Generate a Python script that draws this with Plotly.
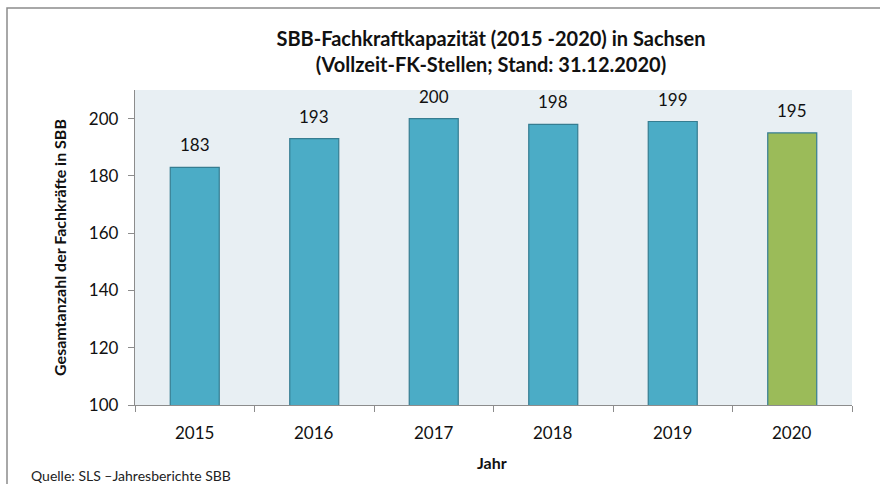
import plotly.graph_objects as go

years = ["2015", "2016", "2017", "2018", "2019", "2020"]
values = [183, 193, 200, 198, 199, 195]
colors = ["#4bacc6", "#4bacc6", "#4bacc6", "#4bacc6", "#4bacc6", "#9bbb59"]

FONT = "Lato, Open Sans, sans-serif"

fig = go.Figure()
fig.add_trace(go.Bar(
    x=years, y=values,
    marker=dict(color=colors, line=dict(color="#357d91", width=1.2)),
    width=0.41,
    hoverinfo="x+y",
))

L, R, T, B = 135, 28, 90, 79
W, H = 880, 484
pw, ph = W - L - R, H - T - B

def px_x(p):
    return (p - L) / pw

def px_y(p):
    return (H - B - p) / ph

# category axis: annotation x given as category index
for i, (yr, v) in enumerate(zip(years, values)):
    fig.add_annotation(x=i, y=v, xref="x", yref="y", text=str(v), showarrow=False,
                       yanchor="bottom", yshift=10,
                       font=dict(size=17, color="#111111", family=FONT))
    fig.add_annotation(x=i, y=px_y(432), xref="x", yref="paper", text=yr, showarrow=False,
                       yanchor="middle",
                       font=dict(size=17, color="#111111", family=FONT))

fig.update_layout(
    width=W, height=H,
    margin=dict(l=L, r=R, t=T, b=B, autoexpand=False),
    paper_bgcolor="white",
    plot_bgcolor="#e8eff3",
    font=dict(family=FONT, color="#111111"),
    showlegend=False,
    title=dict(
        text="<b>SBB-Fachkraftkapazität (2015 -2020) in Sachsen<br>(Vollzeit-FK-Stellen; Stand: 31.12.2020)</b>",
        x=491 / W, xanchor="center",
        y=1 - 46 / H, yanchor="middle",
        font=dict(size=20, family=FONT, color="#111111"),
    ),
    xaxis=dict(
        type="category",
        range=[-0.5, len(years) - 0.5],
        showline=True, linecolor="#8c8c8c", linewidth=1.3,
        ticks="outside", ticklen=6, tickcolor="#8c8c8c",
        tickson="boundaries",
        showticklabels=False,
        showgrid=False,
    ),
    yaxis=dict(
        range=[100, 210],
        tickvals=[100, 120, 140, 160, 180, 200],
        showline=True, linecolor="#8c8c8c", linewidth=1.3,
        ticks="outside", ticklen=6, tickcolor="#8c8c8c",
        ticklabelstandoff=6,
        tickfont=dict(size=17, family=FONT),
        showgrid=False, zeroline=False,
        title=dict(text="<b>Gesamtanzahl der Fachkräfte in SBB</b>", font=dict(size=16, family=FONT), standoff=18),
    ),
)

fig.add_annotation(text="<b>Jahr</b>", xref="paper", yref="paper",
                   x=px_x(492), y=px_y(462), xanchor="center", yanchor="middle",
                   showarrow=False, font=dict(size=16, family=FONT, color="#111111"))

fig.add_shape(type="rect", xref="paper", yref="paper",
              x0=px_x(7), x1=px_x(900), y0=px_y(500), y1=px_y(8),
              line=dict(color="#8c8c8c", width=1.5), fillcolor="rgba(0,0,0,0)", layer="below")

fig.add_annotation(text="Quelle: SLS –Jahresberichte SBB", xref="paper", yref="paper",
                   x=px_x(29), y=px_y(475.5), xanchor="left", yanchor="middle",
                   showarrow=False, font=dict(size=14, family=FONT, color="#222222"))

fig.write_html("out.html", config={"displayModeBar": False},
               post_script="document.body.style.margin='0';")
